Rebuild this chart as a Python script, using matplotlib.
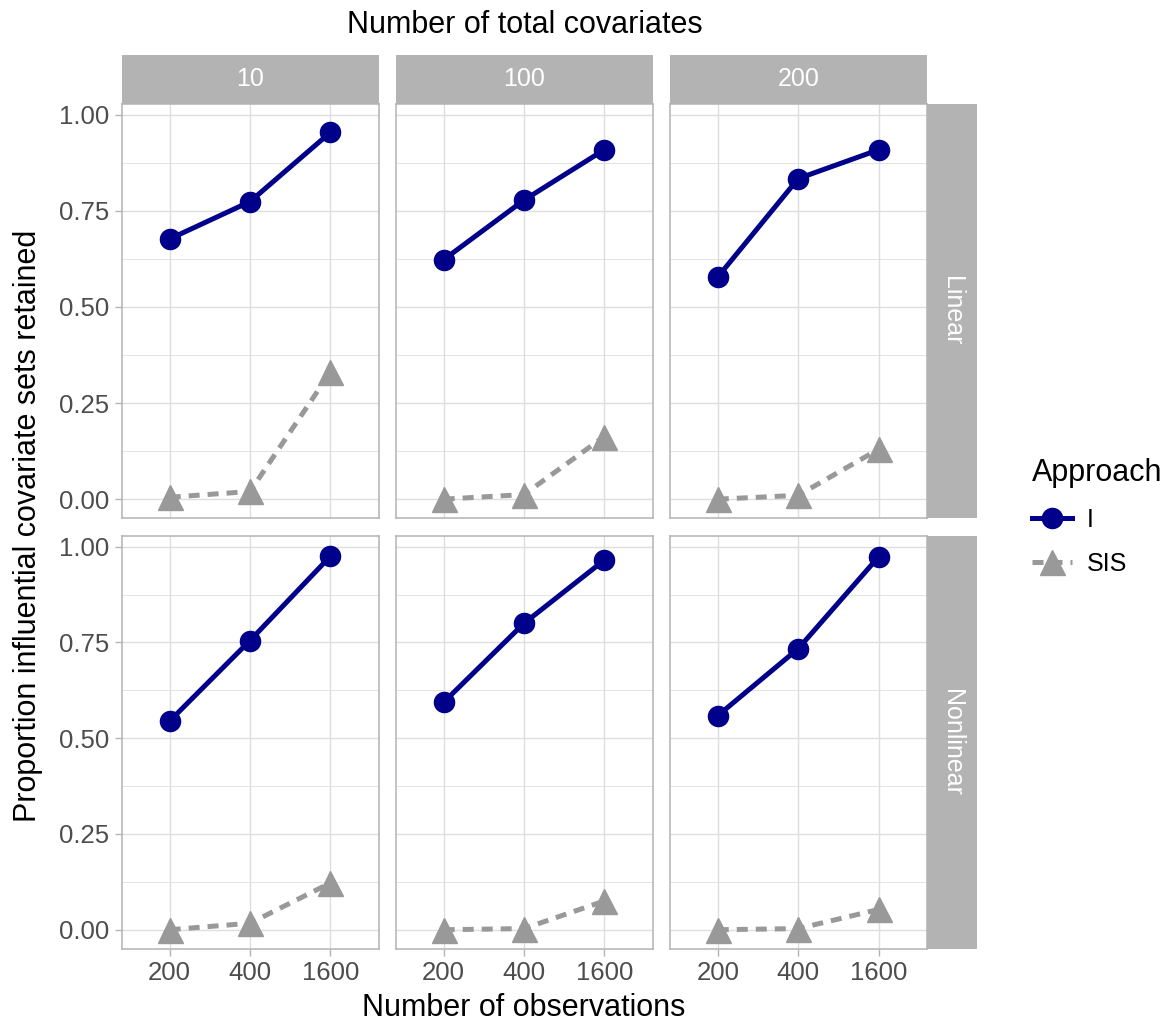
import numpy as np
import matplotlib
matplotlib.use("Agg")
import matplotlib.pyplot as plt
from matplotlib.lines import Line2D

plt.rcParams['font.family'] = ['Liberation Sans', 'DejaVu Sans']

# data
n_obs = ["200", "400", "1600"]
n_covariates = ["10", "100", "200"]
models = ["Linear", "Nonlinear"]

linear_I = [[0.677, 0.774, 0.954], [0.623, 0.778, 0.909], [0.578, 0.834, 0.909]]
linear_SIS = [[0.005, 0.020, 0.330], [0.000, 0.012, 0.163], [0.000, 0.010, 0.130]]
nonlinear_I = [[0.545, 0.755, 0.975], [0.594, 0.800, 0.965], [0.559, 0.734, 0.974]]
nonlinear_SIS = [[0.000, 0.017, 0.122], [0.000, 0.003, 0.075], [0.000, 0.003, 0.053]]

values_I = [linear_I, nonlinear_I]
values_SIS = [linear_SIS, nonlinear_SIS]

W, H = 1163, 1022
GREY70 = '#B3B3B3'
GRID = '#DEDEDE'
BLUE = '#00008B'
SIS_COL = '#999999'
LW = 3.6
DASH = (0, (2.2, 1.6))

fig = plt.figure(figsize=(W / 100, H / 100), dpi=100)


def box(x0, y0, x1, y1):
    # pixel box (top-left origin) -> figure fraction rect
    return [x0 / W, 1 - y1 / H, (x1 - x0) / W, (y1 - y0) / H]


col_x = [(121.5, 378.5), (395.5, 652.5), (669.5, 927.0)]
row_y = [(104.0, 518.0), (536.0, 948.5)]
xs = np.arange(len(n_obs))

for r in range(2):
    for c in range(3):
        x0, x1 = col_x[c]
        y0, y1 = row_y[r]
        ax = fig.add_axes(box(x0, y0, x1, y1))
        ax.set_xlim(-0.6, 2.6)
        ax.set_ylim(-0.049, 1.028)
        ax.set_yticks([0, 0.25, 0.5, 0.75, 1.0])
        ax.set_yticks([0.125, 0.375, 0.625, 0.875], minor=True)
        ax.set_xticks(xs)
        ax.grid(True, which='major', color=GRID, lw=1.0, zorder=0)
        ax.grid(True, which='minor', axis='y', color=GRID, lw=0.6, zorder=0)
        ax.set_axisbelow(True)
        for s in ax.spines.values():
            s.set_color(GREY70)
            s.set_linewidth(1.1)
        ax.tick_params(which='minor', length=0)
        ax.tick_params(which='major', color=GREY70, length=5, width=1.0,
                       labelsize=18.5, labelcolor='#4D4D4D', pad=4)
        if c == 0:
            ax.set_yticklabels(["0.00", "0.25", "0.50", "0.75", "1.00"])
        else:
            ax.tick_params(axis='y', length=0, labelleft=False)
        if r == 1:
            ax.set_xticklabels(n_obs)
        else:
            ax.tick_params(axis='x', length=0, labelbottom=False)

        ax.plot(xs, values_I[r][c], color=BLUE, lw=LW, marker='o',
                markersize=14.5, zorder=3)
        ax.plot(xs, values_SIS[r][c], color=SIS_COL, lw=LW, ls=DASH,
                marker='^', markersize=18, zorder=3)

# top strips
for c in range(3):
    x0, x1 = col_x[c]
    sa = fig.add_axes(box(x0, 55, x1, 104))
    sa.set_facecolor(GREY70)
    sa.set_xticks([])
    sa.set_yticks([])
    for s in sa.spines.values():
        s.set_visible(False)
    sa.text(0.5, 0.5, n_covariates[c], color='white', fontsize=18,
            ha='center', va='center', transform=sa.transAxes)

# right strips
for r in range(2):
    y0, y1 = row_y[r]
    sa = fig.add_axes(box(927.0, y0, 977, y1))
    sa.set_facecolor(GREY70)
    sa.set_xticks([])
    sa.set_yticks([])
    for s in sa.spines.values():
        s.set_visible(False)
    sa.text(0.5, 0.5, models[r], color='white', fontsize=18, rotation=-90,
            ha='center', va='center', transform=sa.transAxes)

fig.text(525 / W, 1 - 25 / H, "Number of total covariates", fontsize=22,
         ha='center', va='center')
fig.text(524 / W, 1 - 1008 / H, "Number of observations", fontsize=22,
         ha='center', va='center')
fig.text(28 / W, 1 - 526 / H, "Proportion influential covariate sets retained",
         fontsize=22, rotation=90, ha='center', va='center')

handles = [
    Line2D([], [], color=BLUE, lw=LW, marker='o', markersize=14.5),
    Line2D([], [], color=SIS_COL, lw=LW, ls=DASH, marker='^', markersize=18),
]
leg = fig.legend(handles, ["I", "SIS"], title="Approach", loc='upper left',
                 bbox_to_anchor=(1022 / W, 1 - 448 / H), frameon=False,
                 fontsize=18, title_fontsize=22, handlelength=1.6,
                 handletextpad=0.6, labelspacing=0.8, borderaxespad=0)
leg._legend_box.align = "left"

fig.savefig("out.png", dpi=100)
